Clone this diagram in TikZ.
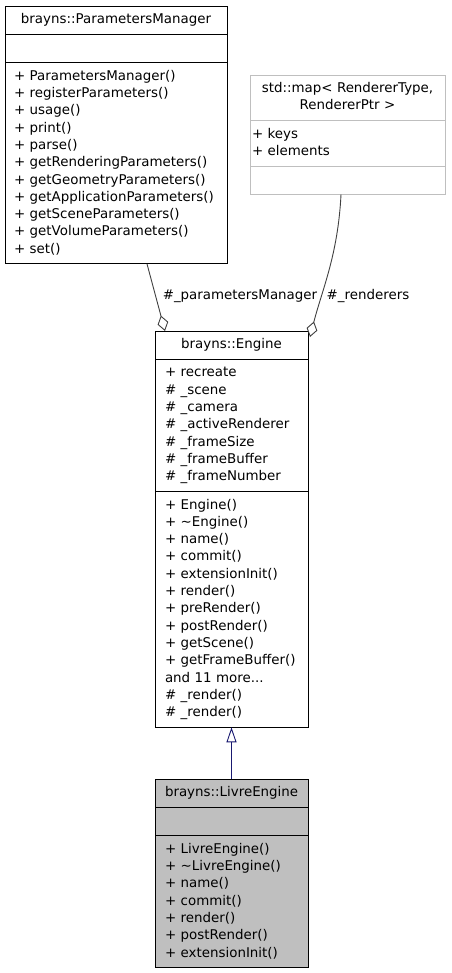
\documentclass[tikz,border=0pt]{standalone}
\usepackage{fontspec}
\newfontfamily\umlfamily{DejaVu Sans}
\usetikzlibrary{arrows.meta, positioning}
\definecolor{DOXgray}{HTML}{BFBFBF}
\definecolor{DOXedge}{HTML}{404040}
\definecolor{DOXnavy}{HTML}{191970}
\newcommand{\umlfont}{\umlfamily\fontsize{13.4pt}{17.3pt}\selectfont}
\tikzset{
  part/.style={draw, line width=0.9pt, outer sep=0pt, fill=white, inner ysep=5.5pt, align=left,
    font=\umlfont, execute at begin node={\hyphenpenalty=10000\strut}, execute at end node=\strut},
  pmpart/.style={part, inner xsep=9pt, text width=204pt},
  mappart/.style={part, draw=DOXgray, inner xsep=2pt, text width=191pt},
  engpart/.style={part, inner xsep=10pt, text width=133pt},
  livpart/.style={engpart, fill=DOXgray},
  usage/.style={DOXedge, line width=0.9pt, -{Diamond[open, length=16pt, width=11pt]}},
  edgelabel/.style={font=\umlfont, inner sep=0pt},
}

\begin{document}
\begin{tikzpicture}[x=1pt, y={(0pt,-1pt)}]
  \useasboundingbox (0,0) rectangle (451,973);
  % ParametersManager
  \node[pmpart, anchor=north, align=center] (pmtitle) at (116,6) {brayns::ParametersManager};
  \node[pmpart, below=0pt of pmtitle] (pmattr) {};
  \node[pmpart, below=0pt of pmattr] (pmmeth) {+ ParametersManager()\\+ registerParameters()\\
    + usage()\\+ print()\\+ parse()\\+ getRenderingParameters()\\+ getGeometryParameters()\\
    + getApplicationParameters()\\+ getSceneParameters()\\+ getVolumeParameters()\\+ set()};
  % std::map (external)
  \node[mappart, anchor=north, align=center] (maptitle) at (347.5,75) {std::map< RendererType,\\RendererPtr >};
  \node[mappart, below=0pt of maptitle] (mapattr) {+ keys\\+ elements};
  \node[mappart, below=0pt of mapattr] (mapempty) {};
  % Engine
  \node[engpart, anchor=north, align=center] (engtitle) at (231.5,331) {brayns::Engine};
  \node[engpart, below=0pt of engtitle] (engattr) {+ recreate\\\# \_scene\\\# \_camera\\
    \# \_activeRenderer\\\# \_frameSize\\\# \_frameBuffer\\\# \_frameNumber};
  \node[engpart, below=0pt of engattr] (engmeth) {+ Engine()\\+ \textasciitilde Engine()\\+ name()\\
    + commit()\\+ extensionInit()\\+ render()\\+ preRender()\\+ postRender()\\+ getScene()\\
    + getFrameBuffer()\\and 11 more...\\\# \_render()\\\# \_render()};
  % LivreEngine
  \node[livpart, anchor=north, align=center] (livtitle) at (231.5,779) {brayns::LivreEngine};
  \node[livpart, below=0pt of livtitle] (livattr) {};
  \node[livpart, below=0pt of livattr] (livmeth) {+ LivreEngine()\\+ \textasciitilde LivreEngine()\\
    + name()\\+ commit()\\+ render()\\+ postRender()\\+ extensionInit()};
  % usage edges
  \draw[usage] ([xshift=31pt]pmmeth.south) -- ([xshift=-66.5pt]engtitle.north);
  \draw[usage] ([xshift=-6.5pt]mapempty.south) .. controls (338,255) and (322,290)
    .. ([xshift=2pt, yshift=-6pt]engtitle.north east);
  \node[edgelabel] (pmlabel) at (240,296) {\#\_parametersManager};
  \node[edgelabel] (rendlabel) at (368,296) {\#\_renderers};
  % inheritance
  \draw[DOXnavy, line width=0.9pt, -{Triangle[open, length=15pt, width=10pt]}]
    (livtitle.north) -- (engmeth.south);
\end{tikzpicture}
\end{document}
